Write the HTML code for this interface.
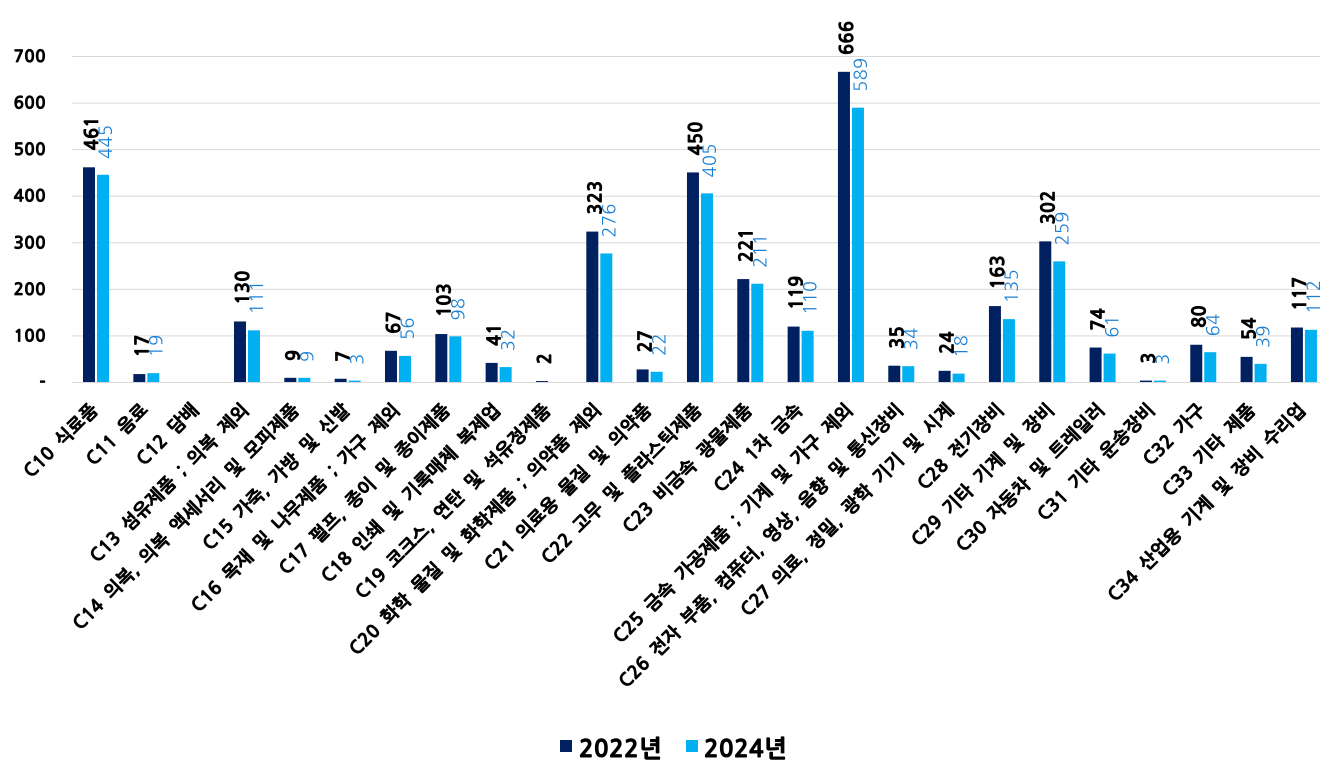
<!DOCTYPE html>
<html><head><meta charset="utf-8"><style>
html,body{margin:0;padding:0;background:#fff}
svg text{font-family:"NanumGothic","Noto Sans CJK KR",sans-serif}
</style></head><body>
<svg width="1343" height="769" viewBox="0 0 1343 769" xmlns="http://www.w3.org/2000/svg">
<g id="grid" stroke="#d9d9d9" stroke-width="1"></g>
<g id="ylab" font-size="17" font-weight="bold" text-anchor="end" fill="#000" stroke="#000" stroke-width="0.7" letter-spacing="0.5"></g>
<g id="bars"></g>
<g id="xlab" font-size="18" font-weight="bold" text-anchor="end" fill="#000" stroke="#000" stroke-width="0.7" word-spacing="4" letter-spacing="0.3"></g>
<g stroke="#000" stroke-width="0.9">
<rect x="560" y="740" width="12" height="12" fill="#002060" stroke="none"/>
<text x="579" y="757" font-size="24" font-weight="bold" letter-spacing="0.5">2022년</text>
<rect x="686" y="740" width="12" height="12" fill="#00b0f0" stroke="none"/>
<text x="704" y="757" font-size="24" font-weight="bold" letter-spacing="0.5">2024년</text>
</g>
<script>
const ns="http://www.w3.org/2000/svg";
function el(p,t,a,txt){const e=document.createElementNS(ns,t);for(const k in a)e.setAttribute(k,a[k]);if(txt!==undefined)e.textContent=txt;document.getElementById(p).appendChild(e);return e;}
const base=382,s=326/700;
for(let v=0;v<=700;v+=100){const y=base-v*s;el('grid','line',{x1:72,x2:1320,y1:y+0.5,y2:y+0.5});el('ylab','text',{x:46,y:y+6},v?v:'-');}
const cats=["C10 식료품","C11 음료","C12 담배","C13 섬유제품 ; 의복 제외","C14 의복, 의복 액세서리 및 모피제품","C15 가죽, 가방 및 신발","C16 목재 및 나무제품 ; 가구 제외","C17 펄프, 종이 및 종이제품","C18 인쇄 및 기록매체 복제업","C19 코크스, 연탄 및 석유정제품","C20 화학 물질 및 화학제품 ; 의약품 제외","C21 의료용 물질 및 의약품","C22 고무 및 플라스틱제품","C23 비금속 광물제품","C24 1차 금속","C25 금속 가공제품 ; 기계 및 가구 제외","C26 전자 부품, 컴퓨터, 영상, 음향 및 통신장비","C27 의료, 정밀, 광학 기기 및 시계","C28 전기장비","C29 기타 기계 및 장비","C30 자동차 및 트레일러","C31 기타 운송장비","C32 가구","C33 기타 제품","C34 산업용 기계 및 장비 수리업"];
const a=[461,17,null,130,9,7,67,103,41,2,323,27,450,221,119,666,35,24,163,302,74,3,80,54,117];
const b=[445,19,null,111,9,3,56,98,32,null,276,22,405,211,110,589,34,18,135,259,61,3,64,39,112];
cats.forEach((c,i)=>{
 const x=83+i*50.33, cx=x+13;
 if(a[i]!==null){const h=a[i]*s;el('bars','rect',{x:x,y:base-h,width:12,height:h,fill:'#002060'});
  const tx=x+15,ty=base-h-17;el('bars','text',{x:tx,y:ty,transform:`rotate(-90 ${tx} ${ty})`,'font-size':18,'font-weight':'bold','letter-spacing':0.5,fill:'#000',stroke:'#000','stroke-width':0.8},a[i]);}
 if(b[i]!==null){const h=b[i]*s;el('bars','rect',{x:x+14,y:base-h,width:12,height:h,fill:'#00b0f0'});
  const tx=x+29,ty=base-h-16;el('bars','text',{x:tx,y:ty,transform:`rotate(-90 ${tx} ${ty})`,'font-size':18,'letter-spacing':0.5,fill:'#1a7fd4'},b[i]);}
 const lx=cx+3,ly=411;
 el('xlab','text',{x:lx,y:ly,transform:`rotate(-45 ${lx} ${ly})`},c);
});
</script>
</svg>
</body></html>
